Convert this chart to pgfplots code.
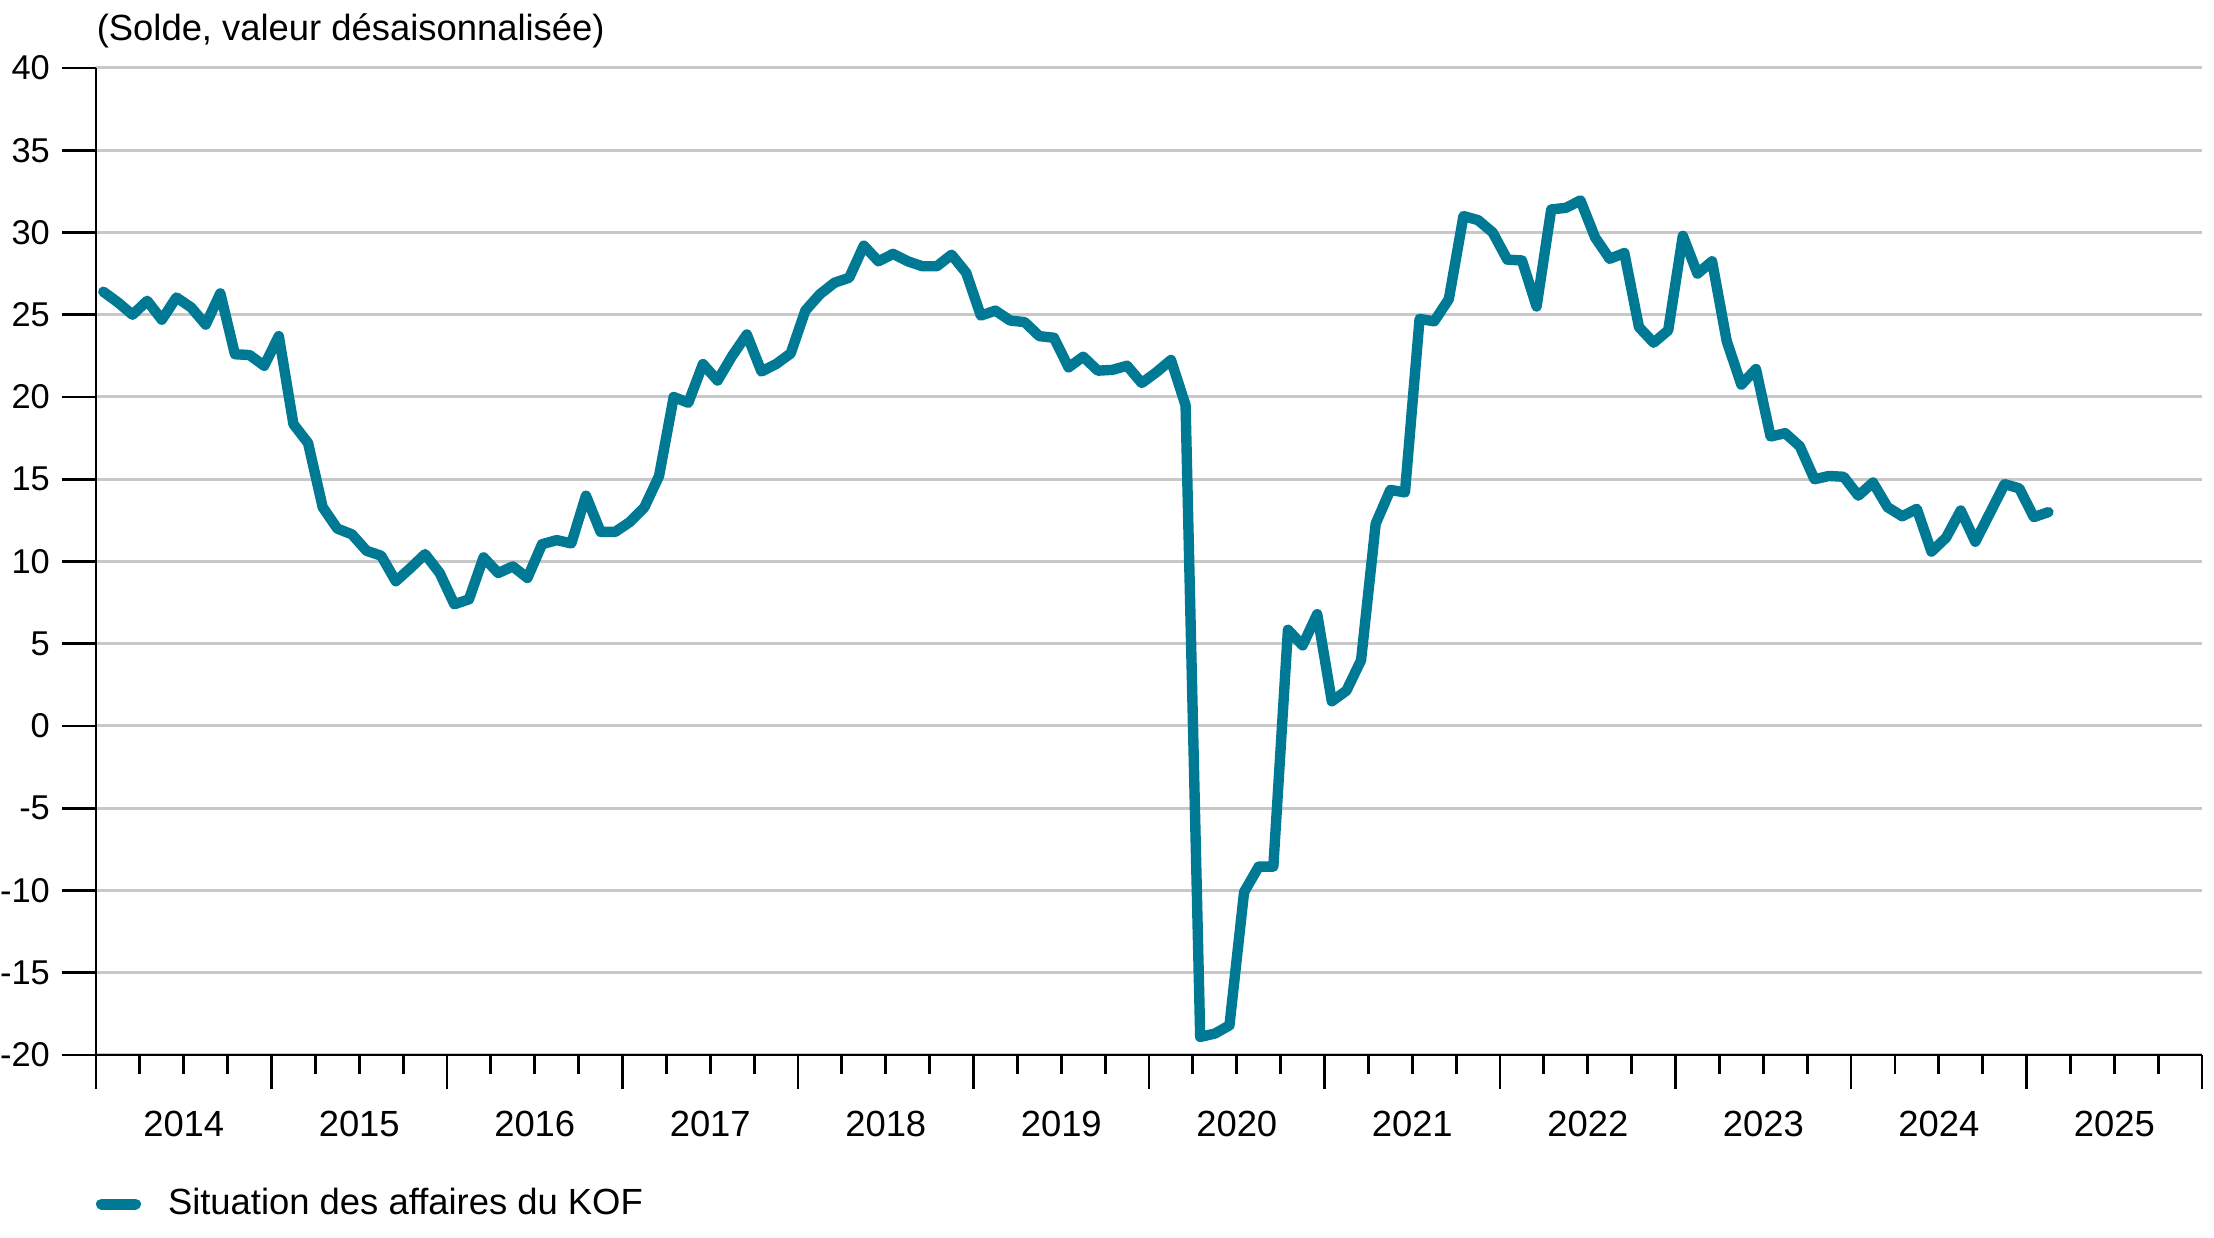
\documentclass[border=0pt]{standalone}
\usepackage{pgfplots}
\pgfplotsset{compat=1.18}
\usepackage{fontspec}
\setmainfont{Liberation Sans}
\definecolor{kof}{RGB}{0,122,148}
\definecolor{gridgray}{RGB}{200,200,200}
\pgfplotstableread{
x y
0.5 26.4
1.5 25.75
2.5 25.0
3.5 25.85
4.5 24.7
5.5 26.05
6.5 25.45
7.5 24.4
8.5 26.3
9.5 22.6
10.5 22.55
11.5 21.9
12.5 23.7
13.5 18.35
14.5 17.2
15.5 13.3
16.5 12.0
17.5 11.65
18.5 10.65
19.5 10.35
20.5 8.8
21.5 9.6
22.5 10.45
23.5 9.3
24.5 7.4
25.5 7.7
26.5 10.25
27.5 9.3
28.5 9.7
29.5 9.0
30.5 11.05
31.5 11.3
32.5 11.1
33.5 14.0
34.5 11.8
35.5 11.8
36.5 12.4
37.5 13.3
38.5 15.2
39.5 20.0
40.5 19.65
41.5 22.0
42.5 21.0
43.5 22.5
44.5 23.8
45.5 21.55
46.5 22.0
47.5 22.65
48.5 25.25
49.5 26.25
50.5 26.95
51.5 27.25
52.5 29.2
53.5 28.25
54.5 28.7
55.5 28.25
56.5 27.95
57.5 27.95
58.5 28.65
59.5 27.55
60.5 24.95
61.5 25.25
62.5 24.65
63.5 24.55
64.5 23.7
65.5 23.6
66.5 21.8
67.5 22.45
68.5 21.6
69.5 21.65
70.5 21.9
71.5 20.85
72.5 21.5
73.5 22.25
74.5 19.5
75.5 -18.9
76.5 -18.7
77.5 -18.2
78.5 -10.1
79.5 -8.55
80.5 -8.55
81.5 5.85
82.5 4.9
83.5 6.8
84.5 1.5
85.5 2.15
86.5 4.0
87.5 12.3
88.5 14.35
89.5 14.2
90.5 24.75
91.5 24.6
92.5 25.95
93.5 31.0
94.5 30.75
95.5 30.0
96.5 28.35
97.5 28.3
98.5 25.5
99.5 31.4
100.5 31.5
101.5 31.95
102.5 29.7
103.5 28.4
104.5 28.75
105.5 24.25
106.5 23.3
107.5 24.05
108.5 29.8
109.5 27.5
110.5 28.25
111.5 23.4
112.5 20.75
113.5 21.7
114.5 17.6
115.5 17.8
116.5 17.0
117.5 15.0
118.5 15.2
119.5 15.15
120.5 14.0
121.5 14.8
122.5 13.3
123.5 12.75
124.5 13.2
125.5 10.6
126.5 11.45
127.5 13.1
128.5 11.2
129.5 12.95
130.5 14.7
131.5 14.45
132.5 12.7
133.5 13.0
}\kofdata
\begin{document}
\begin{tikzpicture}[font=\fontsize{9.1}{11}\selectfont]
\useasboundingbox (-24pt,-45.75pt) rectangle (529.5pt,263.75pt);
\begin{axis}[
  width=526.5pt, height=246.75pt, scale only axis,
  xmin=0, xmax=144, ymin=-20, ymax=40,
  axis lines*=left,
  axis line style={line width=0.7pt, black},
  ytick={-20,-15,...,40},
  ymajorgrids,
  grid style={gridgray, line width=0.75pt},
  tick align=outside,
  major tick length=8.5pt,
  minor tick length=4.7pt,
  tick style={black, line width=0.7pt},
  xtick={0,12,...,144},
  xticklabels={},
  minor xtick={3,6,...,141},
  extra x ticks={6,18,...,138},
  extra x tick labels={2014,2015,2016,2017,2018,2019,2020,2021,2022,2023,2024,2025},
  extra x tick style={major tick length=0pt, grid=none, xticklabel style={yshift=-10.4pt}},
  /pgf/number format/assume math mode=true,
  yticklabel style={/pgf/number format/fixed, font=\fontsize{8.6}{11}\selectfont, xshift=0.5pt},
  legend style={at={(axis description cs:0,-0.151)}, anchor=west, draw=none, fill=none, inner sep=0pt, outer sep=0pt, font=\fontsize{9.1}{11}\selectfont},
  legend image code/.code={\path[draw=none] (0pt,0pt) -- (16pt,0pt);\draw[kof, line width=2.75pt, line cap=round] (1.375pt,0pt) -- (9.875pt,0pt);},
  legend cell align=left,
]
\addplot[kof, line width=2.6pt, line join=round, line cap=round] table[x=x, y=y] {\kofdata};
\addlegendentry{Situation des affaires du KOF}
\end{axis}
\node[anchor=west, inner sep=0pt] at (0pt,256.1pt) {(Solde, valeur désaisonnalisée)};
\end{tikzpicture}
\end{document}
